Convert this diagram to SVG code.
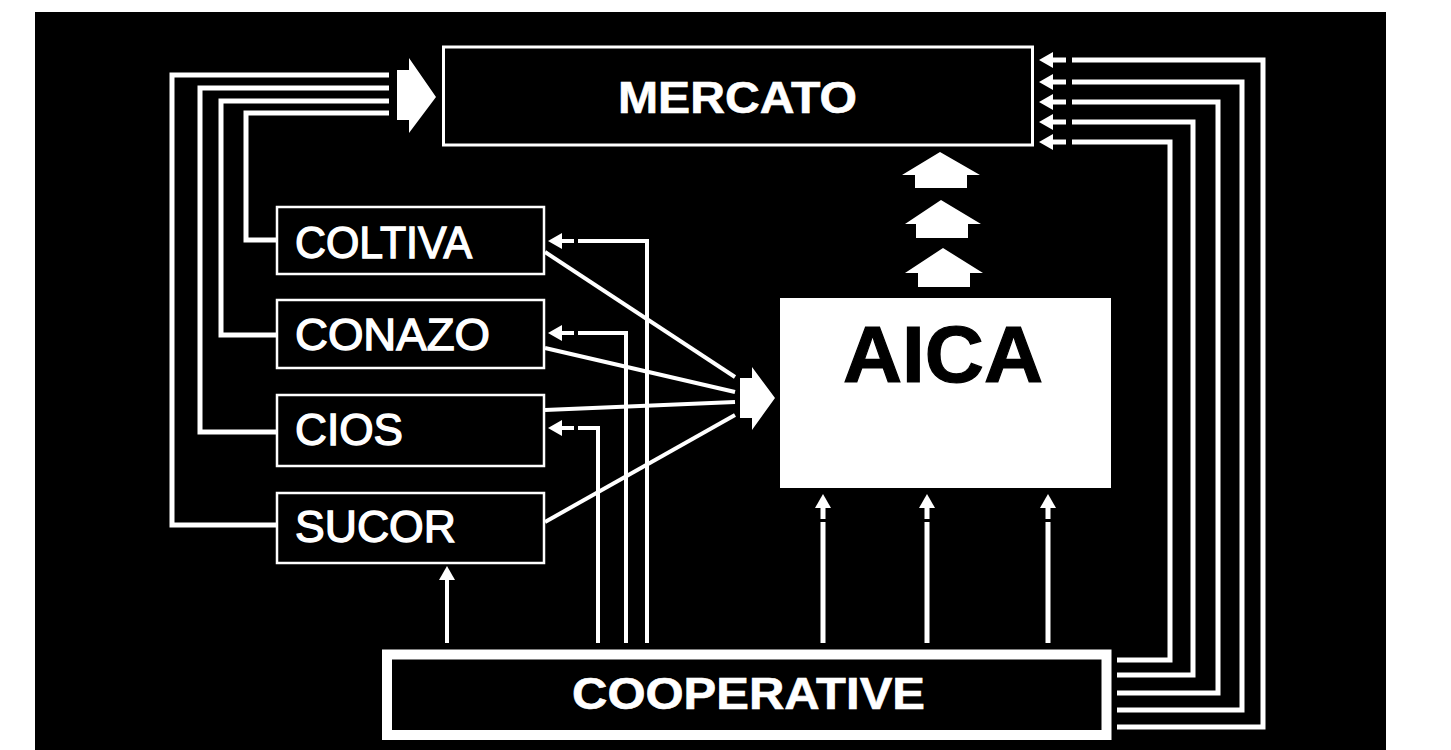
<svg xmlns="http://www.w3.org/2000/svg" width="1451" height="750" viewBox="0 0 1451 750">
<style>
.box{fill:#000;stroke:#fff;stroke-width:2.5}
.lbl{fill:#fff;font-family:"Liberation Sans",Arial,sans-serif;font-size:44px}
.reg{stroke:#fff;stroke-width:1.3}
.bold{font-weight:bold}
.con{fill:none;stroke:#fff;stroke-width:5}
.thin{fill:none;stroke:#fff;stroke-width:4}
.blk{fill:#fff;stroke:none}
</style>
<defs>
<marker id="ah" markerUnits="userSpaceOnUse" markerWidth="20" markerHeight="20" refX="0" refY="0" orient="auto" overflow="visible">
<path d="M0,-8 L14,0 L0,8 Z" fill="#fff"/>
</marker>
</defs>
<rect x="0" y="0" width="1451" height="750" fill="#fff"/>
<rect x="35" y="12" width="1351" height="738" fill="#000"/>

<g id="connectors">
<path class="con" d="M277,525 H172 V75 H389"/>
<path class="con" d="M277,432 H200 V88 H389"/>
<path class="con" d="M277,335 H221 V101 H389"/>
<path class="con" d="M277,240 H246 V113 H389"/>
<polygon class="blk" points="397,70 409,70 409,58 436,97 409,133 409,120 397,120"/>

<path class="con" marker-end="url(#ah)" d="M1117,660 H1170 V142 H1072 M1066,142 H1053"/>
<path class="con" marker-end="url(#ah)" d="M1117,675 H1193 V122 H1072 M1066,122 H1053"/>
<path class="con" marker-end="url(#ah)" d="M1117,693 H1218 V102 H1072 M1066,102 H1053"/>
<path class="con" marker-end="url(#ah)" d="M1117,710 H1242 V82 H1072 M1066,82 H1053"/>
<path class="con" marker-end="url(#ah)" d="M1117,727 H1263 V60 H1072 M1066,60 H1053"/>

<path class="thin" marker-end="url(#ah)" d="M647,643 V241 H578 M574,241 H562"/>
<path class="thin" marker-end="url(#ah)" d="M626,643 V333 H578 M574,333 H562"/>
<path class="thin" marker-end="url(#ah)" d="M598,643 V428 H578 M574,428 H562"/>

<path class="thin" marker-end="url(#ah)" d="M447,643 V580"/>
<path class="con" marker-end="url(#ah)" d="M823,643 V522 M823,519 V508"/>
<path class="con" marker-end="url(#ah)" d="M927,643 V522 M927,519 V508"/>
<path class="con" marker-end="url(#ah)" d="M1048,643 V522 M1048,519 V508"/>

<path class="thin" d="M545,252 L735,377"/>
<path class="thin" d="M545,348 L735,392"/>
<path class="thin" d="M545,410 L735,402"/>
<path class="thin" d="M545,522 L735,415"/>
<polygon class="blk" points="740,378 752,378 752,367 775,398 752,430 752,418 740,418"/>

<polygon class="blk" points="940,152 980,175 967,175 967,188 915,188 915,175 902,175"/>
<polygon class="blk" points="941,200 981,224 968,224 968,238 916,238 916,224 905,224"/>
<polygon class="blk" points="943,248 983,273 970,273 970,287 918,287 918,273 905,273"/>
</g>

<g id="mercato">
<rect x="443.5" y="47" width="589" height="98" fill="#000" stroke="#fff" stroke-width="3"/>
<text class="lbl bold" x="618" y="113" textLength="239" lengthAdjust="spacingAndGlyphs" stroke="#fff" stroke-width="0.6">MERCATO</text>
</g>

<g id="aica">
<rect x="780" y="298" width="331" height="190" fill="#fff"/>
<text class="bold" x="843" y="382" font-family="Liberation Sans,Arial,sans-serif" font-size="80" fill="#000" stroke="#000" stroke-width="1.2" textLength="200" lengthAdjust="spacingAndGlyphs">AICA</text>
</g>

<g id="coltiva">
<rect class="box" x="277" y="207" width="267" height="67"/>
<text class="lbl reg" x="295" y="258" textLength="177" lengthAdjust="spacingAndGlyphs">COLTIVA</text>
</g>
<g id="conazo">
<rect class="box" x="277" y="300" width="267" height="68"/>
<text class="lbl reg" x="295" y="350" textLength="195" lengthAdjust="spacingAndGlyphs">CONAZO</text>
</g>
<g id="cios">
<rect class="box" x="277" y="395" width="267" height="71"/>
<text class="lbl reg" x="295" y="445" textLength="108" lengthAdjust="spacingAndGlyphs">CIOS</text>
</g>
<g id="sucor">
<rect class="box" x="277" y="493" width="267" height="70"/>
<text class="lbl reg" x="295" y="542" textLength="161" lengthAdjust="spacingAndGlyphs">SUCOR</text>
</g>

<g id="cooperative">
<rect x="387" y="654.5" width="719.5" height="80.5" fill="#000" stroke="#fff" stroke-width="10"/>
<text class="lbl bold" x="572" y="709" textLength="353" lengthAdjust="spacingAndGlyphs" stroke="#fff" stroke-width="0.6">COOPERATIVE</text>
</g>
</svg>
